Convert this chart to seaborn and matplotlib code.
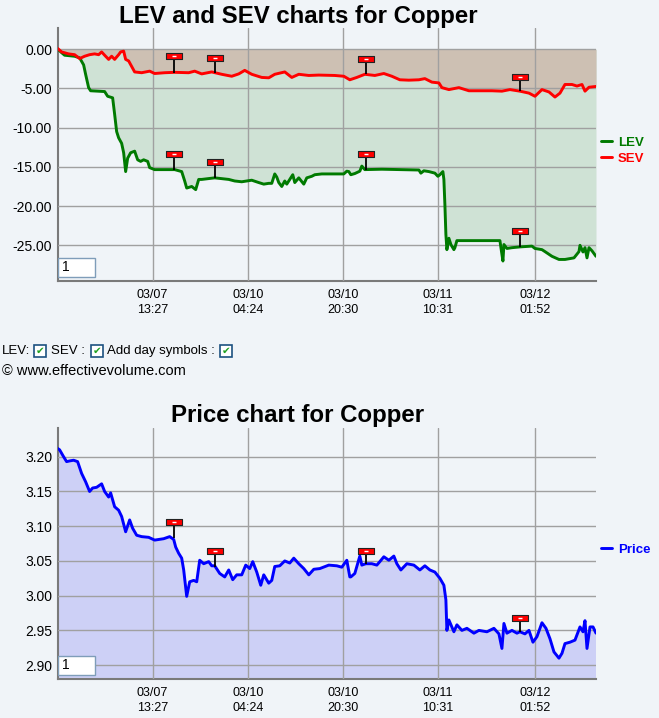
import matplotlib
matplotlib.use("Agg")
import matplotlib.pyplot as plt
import seaborn as sns
from matplotlib.patches import Rectangle

# LEV / SEV series (bar index, value)
lev_x = [0, 7, 17, 22, 26, 28, 31, 33, 47, 50, 55, 57, 59, 61, 64, 66, 68, 70, 73, 77,
         80, 83, 86, 90, 92, 97, 117, 124, 127, 129, 134, 138, 141, 144, 157, 171, 177, 184,
         194, 201, 206, 211, 214, 217, 219, 221, 224, 227, 229, 232, 235, 237, 241, 246, 249,
         254, 257, 264, 272, 286, 289, 291, 293, 297, 302, 304, 307, 324, 361, 363, 366, 371,
         377, 380, 382, 385, 386, 387, 388, 389, 391, 393, 396, 397, 399, 442, 443, 445, 446,
         449, 454, 462, 474, 477, 484, 487, 494, 501, 507, 516, 521, 522, 525, 527, 529, 531,
         534, 538]
lev_y = [0.0, -0.77, -0.9, -1.1, -2.0, -3.2, -4.9, -5.3, -5.4, -6.0, -6.2, -8.3, -10.5, -11.3,
         -12.0, -13.2, -15.6, -13.9, -13.2, -13.0, -14.1, -14.3, -14.1, -14.3, -15.1, -15.35,
         -15.35, -15.6, -16.8, -17.7, -17.5, -17.9, -16.6, -16.6, -16.4, -16.6, -16.8, -16.9,
         -16.7, -17.0, -17.2, -17.1, -17.1, -15.9, -16.3, -17.0, -17.5, -16.8, -17.2, -16.6,
         -16.0, -17.0, -16.4, -17.2, -16.4, -16.2, -16.0, -15.9, -15.9, -15.9, -15.55, -15.6,
         -16.0, -15.85, -15.55, -14.9, -15.35, -15.3, -15.4, -15.8, -15.5, -15.6, -15.8, -16.2,
         -16.0, -15.6, -16.6, -19.8, -23.6, -25.55, -24.1, -24.9, -25.55, -25.3, -24.4, -24.4,
         -25.3, -27.0, -24.9, -25.4, -25.3, -25.2, -25.1, -25.4, -25.55, -25.8, -26.4, -26.8,
         -26.8, -26.6, -25.8, -25.0, -25.85, -25.3, -26.6, -25.3, -25.7, -26.4]

sev_x = [0, 4, 11, 17, 22, 27, 32, 37, 41, 44, 47, 51, 54, 57, 61, 63, 66, 68, 71, 74, 77,
         84, 92, 97, 107, 117, 131, 137, 144, 154, 164, 174, 181, 187, 194, 204, 211, 217,
         227, 234, 241, 251, 261, 277, 286, 292, 299, 307, 317, 326, 334, 342, 351, 361, 367,
         374, 381, 384, 391, 401, 411, 421, 434, 444, 452, 462, 471, 477, 484, 491, 497, 502,
         507, 514, 519, 524, 527, 531, 538]
sev_y = [0.1, -0.35, -0.6, -0.7, -1.2, -0.9, -0.7, -0.6, -0.7, -0.35, -0.77, -1.3, -0.9,
         -1.3, -0.7, -0.35, -0.25, -1.3, -1.5, -2.2, -2.9, -3.0, -2.8, -3.1, -3.0, -2.95,
         -3.0, -2.8, -3.15, -2.9, -3.2, -3.45, -3.15, -2.7, -3.2, -3.6, -3.65, -3.2, -2.9,
         -3.6, -3.2, -3.35, -3.3, -3.35, -3.45, -3.9, -3.6, -3.2, -3.35, -3.1, -3.45, -3.9,
         -3.95, -3.9, -3.75, -4.2, -4.3, -4.9, -5.15, -4.9, -5.3, -5.3, -5.3, -5.35, -5.15,
         -5.35, -5.6, -6.0, -5.15, -5.45, -6.1, -5.6, -4.5, -4.5, -4.7, -4.5, -5.35, -4.85,
         -4.75]

price_x = [0, 2, 6, 9, 12, 16, 20, 24, 28, 32, 35, 39, 44, 47, 51, 53, 57, 61, 64, 68, 72,
           75, 79, 84, 91, 97, 106, 112, 116, 118, 121, 124, 126, 129, 132, 136, 139, 142,
           146, 151, 154, 157, 162, 167, 171, 175, 179, 184, 188, 192, 195, 199, 203, 206,
           211, 214, 217, 222, 227, 232, 236, 241, 246, 251, 256, 262, 271, 279, 284, 289,
           292, 293, 297, 302, 304, 308, 314, 319, 322, 326, 331, 336, 339, 343, 349, 356,
           362, 367, 372, 377, 382, 386, 388, 389, 391, 394, 396, 399, 404, 409, 416, 421,
           429, 436, 441, 444, 446, 449, 454, 459, 462, 467, 471, 475, 479, 484, 488, 492,
           496, 501, 504, 507, 512, 517, 522, 525, 527, 529, 532, 535, 538]
price_y = [3.212, 3.210, 3.200, 3.193, 3.194, 3.195, 3.193, 3.176, 3.164, 3.150, 3.155,
           3.156, 3.161, 3.150, 3.142, 3.148, 3.128, 3.123, 3.114, 3.092, 3.109, 3.097,
           3.087, 3.085, 3.084, 3.080, 3.082, 3.085, 3.081, 3.070, 3.061, 3.054, 3.037,
           2.999, 3.020, 3.022, 3.020, 3.051, 3.046, 3.049, 3.043, 3.043, 3.032, 3.027,
           3.037, 3.023, 3.030, 3.030, 3.044, 3.039, 3.049, 3.034, 3.015, 3.030, 3.018,
           3.022, 3.042, 3.043, 3.050, 3.047, 3.054, 3.046, 3.039, 3.030, 3.038, 3.039,
           3.044, 3.043, 3.041, 3.051, 3.027, 3.027, 3.032, 3.057, 3.044, 3.046, 3.046,
           3.044, 3.049, 3.056, 3.051, 3.057, 3.046, 3.037, 3.046, 3.044, 3.037, 3.043,
           3.037, 3.034, 3.025, 3.015, 2.994, 2.950, 2.965, 2.955, 2.948, 2.958, 2.950,
           2.953, 2.946, 2.950, 2.948, 2.953, 2.945, 2.924, 2.960, 2.946, 2.950, 2.946,
           2.948, 2.945, 2.950, 2.933, 2.941, 2.961, 2.953, 2.938, 2.919, 2.910, 2.917,
           2.931, 2.933, 2.936, 2.955, 2.948, 2.964, 2.924, 2.955, 2.955, 2.946]

# day symbols: bar index, flag height and foot of the stem
day_x = [116, 157, 308, 462]
sev_flag = [-0.9, -1.15, -1.3, -3.5]
sev_foot = [-3.0, -3.0, -3.2, -5.35]
lev_flag = [-13.4, -14.4, -13.3, -23.2]
lev_foot = [-15.35, -16.4, -15.35, -25.2]
price_flag = [3.1055, 3.0637, 3.065, 2.968]
price_foot = [3.083, 3.041, 3.046, 2.948]

tick_pos = [95, 190, 285, 380, 477]
tick_lab = ["03/07\n13:27", "03/10\n04:24", "03/10\n20:30", "03/11\n10:31", "03/12\n01:52"]
lev_ticks = [0, -5, -10, -15, -20, -25]
price_ticks = [3.20, 3.15, 3.10, 3.05, 3.00, 2.95, 2.90]

bg = "#f0f4f8"
sns.set_style("white", {"axes.facecolor": bg, "figure.facecolor": bg,
                        "text.color": "black", "xtick.color": "black", "ytick.color": "black"})
plt.rcParams["font.family"] = ["Liberation Sans", "DejaVu Sans"]

fig = plt.figure(figsize=(6.59, 7.18), dpi=100)
ax1 = fig.add_axes([0.0874, 0.6086, 0.817, 0.3524])
ax2 = fig.add_axes([0.0874, 0.0543, 0.817, 0.3496])


def style_axes(ax, yticks, fmt):
    ax.set_xlim(0, 538)
    ax.set_xticks(tick_pos)
    ax.set_xticklabels(tick_lab, fontsize=9, linespacing=1.25, color="black")
    ax.set_yticks(yticks)
    ax.set_yticklabels([fmt % v for v in yticks], fontsize=10, color="black")
    ax.tick_params(length=0, pad=4)
    ax.tick_params(axis="x", pad=6)
    ax.grid(True, color="#a0a0a0", lw=1.0)
    ax.set_axisbelow(False)
    for s in ["top", "right"]:
        ax.spines[s].set_visible(False)
    for s in ["left", "bottom"]:
        ax.spines[s].set_color("#7a7a7a")
        ax.spines[s].set_linewidth(1.5)
    ax.set_xlabel("")
    ax.set_ylabel("")


def flags(ax, xs, tops, feet):
    ax.vlines(xs, feet, tops, color="black", lw=1.3, zorder=5)
    ax.scatter(xs, tops, marker=[(-3, -1), (3, -1), (3, 1), (-3, 1), (-3, -1)], s=120,
               color="#ff0000", edgecolor="#222222", linewidth=0.8, zorder=6)
    ax.scatter(xs, tops, marker="_", s=6, color="white", linewidth=1, zorder=7)


def input_box(ax):
    ax.add_patch(Rectangle((0.0013, 0.017), 0.0676, 0.075, transform=ax.transAxes,
                           facecolor="white", edgecolor="#7f9db9", lw=1, zorder=8))
    ax.text(0.008, 0.054, "1", transform=ax.transAxes, fontsize=10, va="center",
            ha="left", zorder=9)


# top panel
ax1.fill_between(lev_x, 0, lev_y, color="#cfe2d5", lw=0, zorder=1)
ax1.fill_between(sev_x, 0, sev_y, color="#cdc0b3", lw=0, zorder=1.5)
sns.lineplot(x=lev_x, y=lev_y, ax=ax1, color="#007a00", lw=2.1, sort=False, label="LEV", zorder=3)
sns.lineplot(x=sev_x, y=sev_y, ax=ax1, color="#ff0000", lw=2.1, sort=False, label="SEV", zorder=4)
ax1.set_ylim(-29.55, 2.7)
style_axes(ax1, lev_ticks, "%.2f")
flags(ax1, day_x, sev_flag, sev_foot)
flags(ax1, day_x, lev_flag, lev_foot)
input_box(ax1)
ax1.legend(loc="center left", bbox_to_anchor=(0.995, 0.515), frameon=False, handlelength=0.8,
           handletextpad=0.45, labelspacing=0.3, borderaxespad=0.2, labelcolor="linecolor",
           prop={"weight": "bold", "size": 9.5})

# bottom panel
ax2.fill_between(price_x, 2.0, price_y, color="#cdd0f6", lw=0, zorder=1)
sns.lineplot(x=price_x, y=price_y, ax=ax2, color="#0000ff", lw=2.1, sort=False, label="Price", zorder=3)
ax2.set_ylim(2.880, 3.2414)
style_axes(ax2, price_ticks, "%.2f")
flags(ax2, day_x, price_flag, price_foot)
input_box(ax2)
ax2.legend(loc="center left", bbox_to_anchor=(0.995, 0.514), frameon=False, handlelength=0.8,
           handletextpad=0.45, borderaxespad=0.2, labelcolor="linecolor",
           prop={"weight": "bold", "size": 9.5})

# titles
fig.text(298 / 659, 1 - 17 / 718, "LEV and SEV charts for Copper", ha="center", va="center",
         fontsize=17.3, fontweight="bold", color="black")
fig.text(298 / 659, 1 - 415 / 718, "Price chart for Copper", ha="center", va="center",
         fontsize=17.3, fontweight="bold", color="black")

# checkbox row and credit line
ty = 1 - 351 / 718
fig.text(2 / 659, ty, "LEV:", fontsize=9.5, va="center")
fig.text(51 / 659, ty, "SEV :", fontsize=9.5, va="center")
fig.text(107 / 659, ty, "Add day symbols :", fontsize=9.5, va="center")
for bx in [34, 91, 220]:
    fig.add_artist(Rectangle((bx / 659, 1 - 357 / 718), 12 / 659, 12 / 718,
                             transform=fig.transFigure, facecolor="white",
                             edgecolor="#1c5180", lw=1.2))
    fig.text((bx + 6) / 659, 1 - 351 / 718, "\u2714", fontsize=7.5, color="#21a121",
             ha="center", va="center", family=["DejaVu Sans"])
fig.text(2 / 659, 1 - 371 / 718, "\u00a9 www.effectivevolume.com", fontsize=10.5, va="center")

fig.savefig("out.png", dpi=100, facecolor=bg)
